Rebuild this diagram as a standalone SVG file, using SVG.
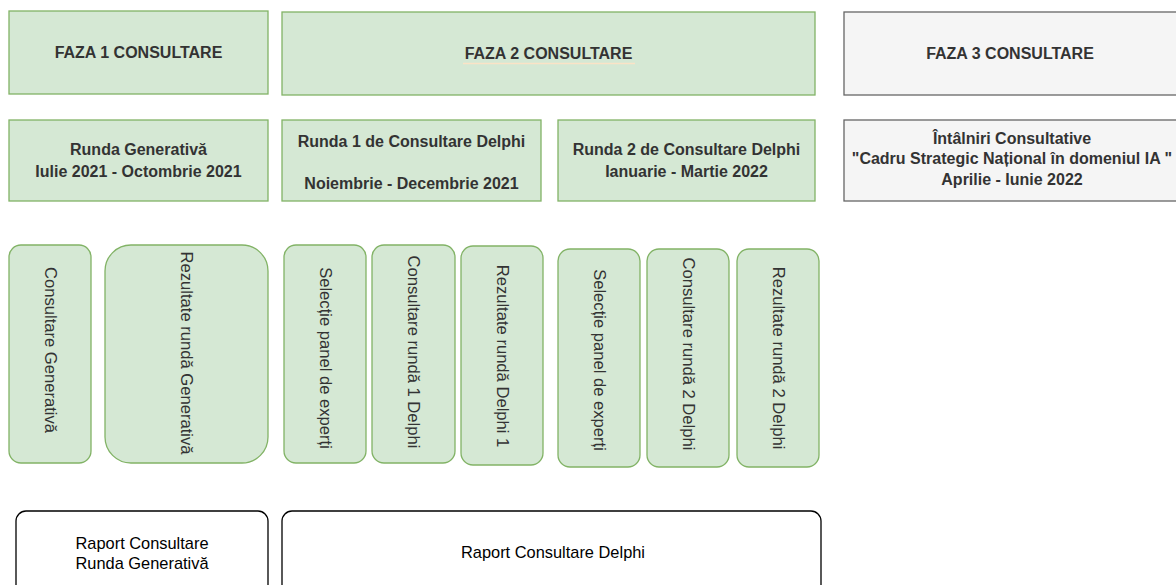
<svg xmlns="http://www.w3.org/2000/svg" width="1176" height="585" viewBox="0 0 1176 585">
<style>
.g{fill:#d5e8d4;stroke:#82b366;stroke-width:1.3}
.w{fill:#f5f5f5;stroke:#666666;stroke-width:1.3}
.r{fill:#ffffff;stroke:#000000;stroke-width:1.3}
text{font-family:"Liberation Sans",Arial,Helvetica,sans-serif;font-size:16.4px;fill:#333333;text-anchor:middle}
.b{font-weight:bold;font-size:16px}
.k{fill:#000000}
.v{dominant-baseline:central;font-size:16.6px}
</style>
<rect width="1176" height="585" fill="#ffffff"/>
<g id="connectors"></g>
<g id="faza1"><rect class="g" x="9" y="11" width="259" height="83"/><text class="b" x="138.5" y="58">FAZA 1 CONSULTARE</text></g>
<g id="faza2"><rect class="g" x="282" y="12" width="533" height="83"/><text class="b" x="548.5" y="59">FAZA 2 CONSULTARE</text><line x1="463" y1="63.5" x2="635" y2="63.5" stroke="#fbe3c6" stroke-width="1.5"/></g>
<g id="faza3"><rect class="w" x="844" y="12" width="340" height="83"/><text class="b" x="1010" y="59">FAZA 3 CONSULTARE</text></g>
<g id="runda-generativa"><rect class="g" x="9" y="120" width="259" height="81"/><text class="b" x="138.5" y="154.5">Runda Generativă</text><text class="b" x="138.5" y="176.5">Iulie 2021 - Octombrie 2021</text></g>
<g id="runda1"><rect class="g" x="282" y="120" width="259" height="81"/><text class="b" x="411.5" y="146.5">Runda 1 de Consultare Delphi</text><text class="b" x="411.5" y="188.5">Noiembrie - Decembrie 2021</text></g>
<g id="runda2"><rect class="g" x="558" y="120" width="257" height="81"/><text class="b" x="686.5" y="154.5">Runda 2 de Consultare Delphi</text><text class="b" x="686.5" y="176.5">Ianuarie - Martie 2022</text></g>
<g id="intalniri"><rect class="w" x="844" y="120" width="340" height="81"/><text class="b" x="1012" y="144">Întâlniri Consultative</text><text class="b" x="1012" y="164">"Cadru Strategic Național în domeniul IA "</text><text class="b" x="1012" y="185">Aprilie - Iunie 2022</text></g>
<g id="consultare-generativa"><rect class="g" x="9" y="245" width="82" height="218" rx="12"/><text class="v" transform="translate(50,350) rotate(90)">Consultare Generativă</text></g>
<g id="rezultate-generativa"><rect class="g" x="105" y="245" width="163" height="218" rx="26"/><text class="v" transform="translate(186.5,353) rotate(90)">Rezultate rundă Generativă</text></g>
<g id="selectie1"><rect class="g" x="284" y="245" width="82" height="218" rx="12"/><text class="v" transform="translate(325,358) rotate(90)">Selecție panel de experți</text></g>
<g id="consultare1"><rect class="g" x="372" y="245" width="83" height="218" rx="12"/><text class="v" transform="translate(413.5,352) rotate(90)">Consultare rundă 1 Delphi</text></g>
<g id="rezultate1"><rect class="g" x="461" y="246" width="82" height="219" rx="12"/><text class="v" transform="translate(502,356) rotate(90)">Rezultate rundă Delphi 1</text></g>
<g id="selectie2"><rect class="g" x="558" y="249" width="82" height="218" rx="12"/><text class="v" transform="translate(599,360) rotate(90)">Selecție panel de experți</text></g>
<g id="consultare2"><rect class="g" x="647" y="249" width="82" height="218" rx="12"/><text class="v" transform="translate(688,354) rotate(90)">Consultare rundă 2 Delphi</text></g>
<g id="rezultate2"><rect class="g" x="737" y="249" width="82" height="218" rx="12"/><text class="v" transform="translate(778,358) rotate(90)">Rezultate rundă 2 Delphi</text></g>
<g id="raport-generativa"><rect class="r" x="16" y="511" width="252" height="90" rx="10"/><text class="k" x="142" y="548.5">Raport Consultare</text><text class="k" x="142" y="568.5">Runda Generativă</text></g>
<g id="raport-delphi"><rect class="r" x="282" y="511" width="539" height="90" rx="10"/><text class="k" x="553" y="558">Raport Consultare Delphi</text></g>
</svg>
